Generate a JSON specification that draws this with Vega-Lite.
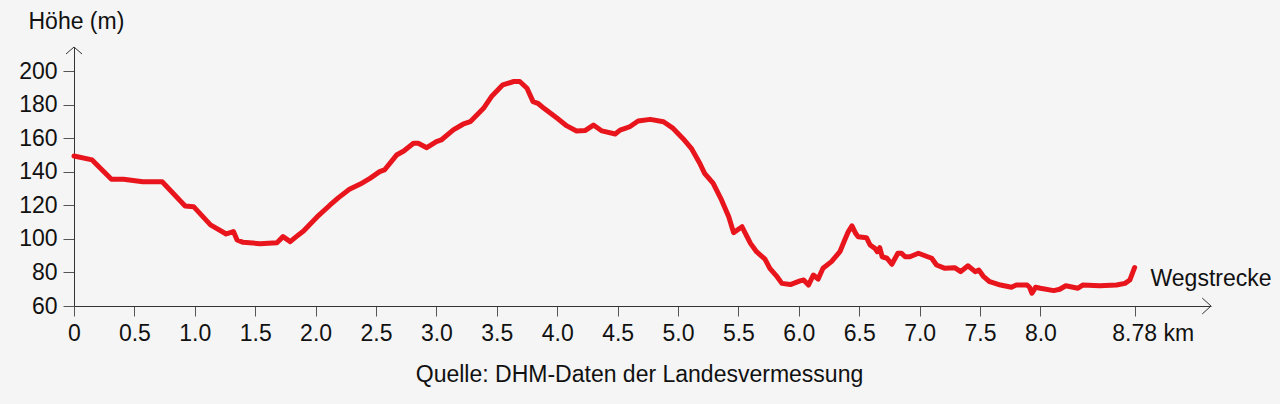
{
  "$schema": "https://vega.github.io/schema/vega-lite/v6.json",
  "width": 1137,
  "height": 259,
  "autosize": "none",
  "padding": {"left": 74, "top": 47, "right": 69, "bottom": 98},
  "background": "#f5f5f5",
  "config": {
    "view": {"stroke": null},
    "font": "Liberation Sans",
    "title": {"font": "Liberation Sans", "fontSize": 23, "fontWeight": "normal", "color": "#111"}
  },
  "title": {
    "text": "Quelle: DHM-Daten der Landesvermessung",
    "orient": "bottom",
    "anchor": "middle",
    "offset": 19,
    "dx": -3
  },
  "datasets": {
    "profile": [
      {"km": 0.0, "h": 149.5},
      {"km": 0.15, "h": 147.2},
      {"km": 0.31, "h": 135.6},
      {"km": 0.41, "h": 135.6},
      {"km": 0.57, "h": 134.2},
      {"km": 0.73, "h": 134.2},
      {"km": 0.92, "h": 119.7},
      {"km": 0.99, "h": 119.3},
      {"km": 1.13, "h": 108.4},
      {"km": 1.26, "h": 103.0},
      {"km": 1.32, "h": 104.4},
      {"km": 1.35, "h": 99.4},
      {"km": 1.4, "h": 98.0},
      {"km": 1.54, "h": 97.2},
      {"km": 1.68, "h": 97.8},
      {"km": 1.73, "h": 101.4},
      {"km": 1.79, "h": 98.4},
      {"km": 1.84, "h": 101.4},
      {"km": 1.9, "h": 104.8},
      {"km": 2.01, "h": 113.0},
      {"km": 2.12, "h": 120.3},
      {"km": 2.19, "h": 124.7},
      {"km": 2.28, "h": 129.7},
      {"km": 2.37, "h": 132.8},
      {"km": 2.45, "h": 136.2},
      {"km": 2.53, "h": 140.2},
      {"km": 2.57, "h": 141.2},
      {"km": 2.67, "h": 150.1},
      {"km": 2.73, "h": 152.5},
      {"km": 2.81, "h": 157.1},
      {"km": 2.85, "h": 157.1},
      {"km": 2.92, "h": 154.5},
      {"km": 3.0, "h": 158.1},
      {"km": 3.04, "h": 159.1},
      {"km": 3.14, "h": 165.1},
      {"km": 3.22, "h": 168.5},
      {"km": 3.28, "h": 170.0},
      {"km": 3.39, "h": 178.0},
      {"km": 3.46, "h": 185.4},
      {"km": 3.55, "h": 192.0},
      {"km": 3.64, "h": 194.0},
      {"km": 3.69, "h": 194.0},
      {"km": 3.75, "h": 190.0},
      {"km": 3.8, "h": 182.0},
      {"km": 3.84, "h": 181.0},
      {"km": 3.89, "h": 178.0},
      {"km": 4.0, "h": 172.0},
      {"km": 4.08, "h": 167.5},
      {"km": 4.16, "h": 164.5},
      {"km": 4.23, "h": 164.7},
      {"km": 4.3, "h": 168.0},
      {"km": 4.37, "h": 164.5},
      {"km": 4.48, "h": 162.7},
      {"km": 4.52, "h": 165.0},
      {"km": 4.55, "h": 165.7},
      {"km": 4.6, "h": 167.0},
      {"km": 4.67, "h": 170.4},
      {"km": 4.77, "h": 171.4},
      {"km": 4.88, "h": 170.0},
      {"km": 4.96, "h": 166.0},
      {"km": 5.04, "h": 160.0},
      {"km": 5.11, "h": 154.1},
      {"km": 5.18, "h": 145.2},
      {"km": 5.22, "h": 139.2},
      {"km": 5.29, "h": 133.3},
      {"km": 5.36, "h": 123.3},
      {"km": 5.42, "h": 113.3},
      {"km": 5.46, "h": 103.8},
      {"km": 5.53, "h": 107.3},
      {"km": 5.55, "h": 104.4},
      {"km": 5.6, "h": 97.4},
      {"km": 5.65, "h": 92.4},
      {"km": 5.72, "h": 88.0},
      {"km": 5.76, "h": 82.5},
      {"km": 5.82, "h": 77.5},
      {"km": 5.86, "h": 73.5},
      {"km": 5.93, "h": 72.8},
      {"km": 6.01, "h": 75.0},
      {"km": 6.04, "h": 75.5},
      {"km": 6.08, "h": 72.5},
      {"km": 6.12, "h": 78.5},
      {"km": 6.16, "h": 76.1},
      {"km": 6.2, "h": 82.5},
      {"km": 6.27, "h": 86.5},
      {"km": 6.34, "h": 92.4},
      {"km": 6.38, "h": 99.4},
      {"km": 6.41, "h": 104.4},
      {"km": 6.44, "h": 107.8},
      {"km": 6.47, "h": 103.4},
      {"km": 6.49, "h": 101.4},
      {"km": 6.56, "h": 100.8},
      {"km": 6.59, "h": 96.4},
      {"km": 6.63, "h": 94.4},
      {"km": 6.65, "h": 92.4},
      {"km": 6.67, "h": 94.8},
      {"km": 6.69, "h": 89.4},
      {"km": 6.73, "h": 88.5},
      {"km": 6.77, "h": 84.9},
      {"km": 6.82, "h": 91.5},
      {"km": 6.85, "h": 91.5},
      {"km": 6.88, "h": 89.4},
      {"km": 6.92, "h": 89.4},
      {"km": 6.99, "h": 91.5},
      {"km": 7.1, "h": 88.5},
      {"km": 7.14, "h": 84.5},
      {"km": 7.21, "h": 82.5},
      {"km": 7.29, "h": 82.9},
      {"km": 7.34, "h": 80.5},
      {"km": 7.4, "h": 84.0},
      {"km": 7.46, "h": 80.5},
      {"km": 7.49, "h": 81.5},
      {"km": 7.53, "h": 77.5},
      {"km": 7.58, "h": 74.5},
      {"km": 7.67, "h": 72.5},
      {"km": 7.76, "h": 71.2},
      {"km": 7.8, "h": 72.5},
      {"km": 7.89, "h": 72.5},
      {"km": 7.91, "h": 71.2},
      {"km": 7.93, "h": 67.6},
      {"km": 7.96, "h": 71.2},
      {"km": 8.0, "h": 70.6},
      {"km": 8.11, "h": 69.2},
      {"km": 8.16, "h": 70.0},
      {"km": 8.21, "h": 72.1},
      {"km": 8.31, "h": 70.6},
      {"km": 8.35, "h": 72.5},
      {"km": 8.49, "h": 72.1},
      {"km": 8.63, "h": 72.5},
      {"km": 8.7, "h": 73.5},
      {"km": 8.74, "h": 75.5},
      {"km": 8.78, "h": 83.0}
    ],
    "grid": [
      {"h": 80}, {"h": 100}, {"h": 120}, {"h": 140}, {"h": 160}, {"h": 180}, {"h": 200}
    ],
    "arrows": [
      {"km": 0, "h": 214.6, "dir": "up"},
      {"km": 9.412, "h": 60, "dir": "right"}
    ]
  },
  "encoding": {
    "x": {
      "field": "km",
      "type": "quantitative",
      "scale": {"domain": [0, 9.412], "nice": false, "zero": false},
      "axis": {
        "values": [0, 0.5, 1, 1.5, 2, 2.5, 3, 3.5, 4, 4.5, 5, 5.5, 6, 6.5, 7, 7.5, 8, 8.78],
        "labelExpr": "datum.value == 0 ? '0' : (datum.value > 8.7 ? '8.78 km' : format(datum.value, '.1f'))",
        "labelOffset": {"condition": {"test": "datum.value > 8.7", "value": 18}, "value": 0},
        "labelOverlap": false,
        "labelBound": false,
        "labelFlush": false,
        "labelFont": "Liberation Sans",
        "labelFontSize": 23,
        "labelColor": "#111",
        "labelPadding": 6,
        "tickSize": 10,
        "tickColor": "#555",
        "tickWidth": 1,
        "domainColor": "#333",
        "domainWidth": 1,
        "grid": false,
        "title": "Wegstrecke",
        "titleFont": "Liberation Sans",
        "titleFontSize": 23,
        "titleFontWeight": "normal",
        "titleColor": "#111",
        "titleAlign": "left",
        "titleBaseline": "alphabetic",
        "titleX": 1076,
        "titleY": -21
      }
    },
    "y": {
      "field": "h",
      "type": "quantitative",
      "scale": {"domain": [60, 214.6], "nice": false, "zero": false},
      "axis": {
        "values": [60, 80, 100, 120, 140, 160, 180, 200],
        "labelFont": "Liberation Sans",
        "labelFontSize": 23,
        "labelColor": "#111",
        "labelPadding": 6,
        "labelBaseline": "middle",
        "tickSize": 11,
        "tickColor": "#555",
        "domainColor": "#333",
        "grid": false,
        "title": "Höhe (m)",
        "titleFont": "Liberation Sans",
        "titleFontSize": 23,
        "titleFontWeight": "normal",
        "titleColor": "#111",
        "titleAngle": 0,
        "titleAlign": "left",
        "titleBaseline": "alphabetic",
        "titleX": -46,
        "titleY": -19
      }
    }
  },
  "layer": [
    {
      "data": {"name": "grid"},
      "mark": {"type": "rule", "color": "#5f5f5f", "strokeWidth": 1},
      "encoding": {
        "x": {"datum": 0, "type": "quantitative"},
        "x2": {"datum": 8.78}
      }
    },
    {
      "data": {"name": "profile"},
      "mark": {"type": "line", "color": "#e8161c", "strokeWidth": 5, "strokeJoin": "round", "strokeCap": "round"}
    },
    {
      "data": {"name": "arrows"},
      "mark": {"type": "point", "filled": false, "stroke": "#333", "strokeWidth": 1, "size": 256, "opacity": 1},
      "encoding": {
        "shape": {
          "field": "dir",
          "type": "nominal",
          "scale": {"domain": ["up", "right"], "range": ["M-1,0.875L0,0L1,0.875", "M-1.1,-1L0,0L-1.1,1"]},
          "legend": null
        }
      }
    }
  ]
}
